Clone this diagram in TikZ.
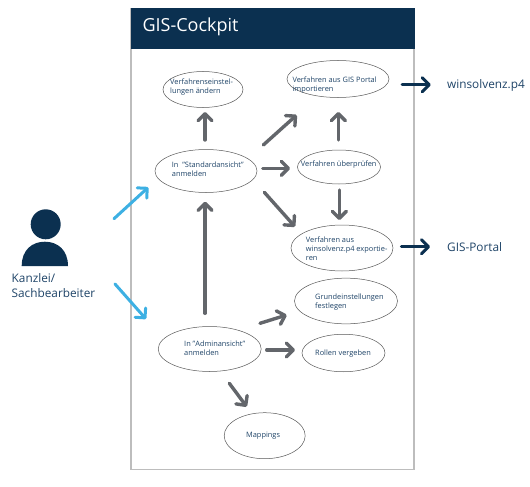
\documentclass[tikz,border=0pt]{standalone}
\usepackage{fontspec}
\setmainfont{Open Sans}
\usetikzlibrary{arrows.meta,shapes.geometric}
\definecolor{navy}{HTML}{0B3050}
\definecolor{txtblue}{HTML}{1F4468}
\definecolor{arrgray}{HTML}{63666B}
\definecolor{skyb}{HTML}{3DB0E3}
\definecolor{framegray}{HTML}{BDBDBD}
\tikzset{
  oval/.style={draw=black!65,line width=0.5pt,ellipse,inner sep=0pt},
  small/.style={anchor=west,inner sep=0pt,align=left,text=txtblue,font=\fontsize{7.4}{9}\selectfont},
  big/.style={anchor=west,inner sep=0pt,align=left,text=txtblue,font=\fontsize{11.8}{14.5}\selectfont},
  arr/.style={line width=3.4pt,line cap=round,color=arrgray,-{Straight Barb[length=7pt,width=14pt,round]}},
  arrsky/.style={arr,line width=3pt,color=skyb},
  arrnavy/.style={arr,line width=3pt,color=navy}
}
\begin{document}
\begin{tikzpicture}[x=1pt,y=-1pt]
\useasboundingbox (0,0) rectangle (530,487);
\fill[white] (0,0) rectangle (530,487);
\draw[framegray,line width=1.2pt] (131,9) rectangle (414,469.5);
\fill[navy] (131,8.5) rectangle (414.5,49.5);
\node[anchor=west,inner sep=0pt,text=white,font=\fontsize{18}{22}\selectfont] (title) at (142.3,26.5) {GIS-Cockpit};
% actor
\node[circle,fill=navy,minimum size=30pt,inner sep=0pt] (head) at (45.7,224.3) {};
\fill[navy] (21.7,266) .. controls (21.7,250) and (32,241.7) .. (44.85,241.7) .. controls (57.7,241.7) and (68,250) .. (68,266) -- cycle;
\node[big] (actor) at (11.5,285.5) {Kanzlei/\\Sachbearbeiter};
% ellipses
\node[oval,minimum width=80pt,minimum height=36pt] (verf) at (203,89.5) {};
\node[oval,minimum width=102pt,minimum height=37pt] (imp) at (338,79) {};
\node[oval,minimum width=102pt,minimum height=43pt] (std) at (206,171) {};
\node[oval,minimum width=83pt,minimum height=34pt] (ueb) at (339,167) {};
\node[oval,minimum width=102pt,minimum height=46pt] (exp) at (342,248) {};
\node[oval,minimum width=103pt,minimum height=45.7pt] (grund) at (346,301) {};
\node[oval,minimum width=83pt,minimum height=37.5pt] (rol) at (343.5,353) {};
\node[oval,minimum width=103pt,minimum height=45pt] (adm) at (209.7,349) {};
\node[oval,minimum width=81pt,minimum height=46pt] (map) at (264.7,435.7) {};
% ellipse texts
\node[small] (verft) at (170,87.2) {Verfahrenseinstel-\\lungen ändern};
\node[small] (impt) at (292.3,84.7) {Verfahren aus GIS Portal\\importieren};
\node[small] (stdt) at (171.7,169.5) {In\ \ "Standardansicht"\\anmelden};
\node[small] (uebt) at (300.7,165) {Verfahren überprüfen};
\node[small] (expt) at (305.7,248.5) {Verfahren aus\\winsolvenz.p4 exportie-\\ren};
\node[small] (grundt) at (315,301.7) {Grundeinstellungen\\festlegen};
\node[small] (rolt) at (315,353.3) {Rollen vergeben};
\node[small] (admt) at (184,348.7) {In "Adminansicht"\\anmelden};
\node[small] (mapt) at (246,435.7) {Mappings};
% targets
\node[big] (win) at (447,85) {winsolvenz.p4};
\node[big] (portal) at (447,247) {GIS-Portal};
% connectors
\draw[arr] ([shift={(-1,-31)}]std.center) -- ([shift={(2,22.5)}]verf.center);
\draw[arr] ([shift={(57.3,-26)}]std.center) -- ([shift={(-41.3,36)}]imp.center);
\draw[arr] ([shift={(-.7,-27)}]ueb.center) -- ([shift={(.3,33)}]imp.center);
\draw[arr] ([shift={(56.7,-2.7)}]std.center) -- ([shift={(-49,1.3)}]ueb.center);
\draw[arr] ([shift={(.3,23)}]ueb.center) -- ([shift={(-2.7,-28)}]exp.center);
\draw[arr] ([shift={(58.3,21.3)}]std.center) -- ([shift={(-47,-21.3)}]exp.center);
\draw[arr] ([shift={(-4.7,-35.7)}]adm.center) -- ([shift={(-1,30.7)}]std.center);
\draw[arr] ([shift={(50.3,-25.7)}]adm.center) -- ([shift={(-59.3,14)}]grund.center);
\draw[arr] ([shift={(57,1)}]adm.center) -- ([shift={(-48.5,-3)}]rol.center);
\draw[arr] ([shift={(19.6,34.3)}]adm.center) -- ([shift={(-18,-29)}]map.center);
\draw[arrsky] ([shift={(68.3,-5.6)}]head.center) -- ([shift={(-57.7,16.3)}]std.center);
\draw[arrsky] ([shift={(69.3,59.7)}]head.center) -- ([shift={(-63.7,-30)}]adm.center);
\draw[arrnavy] ([shift={(64,5.7)}]imp.center) -- ([shift={(-16.3,-.3)}]win.west);
\draw[arrnavy] ([shift={(59.3,-1.3)}]exp.center) -- ([shift={(-17,-.3)}]portal.west);
\end{tikzpicture}
\end{document}
